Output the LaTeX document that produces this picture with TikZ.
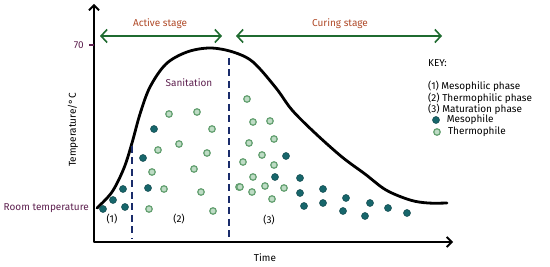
\documentclass[tikz,border=0pt]{standalone}
\usepackage{fontspec}
\setsansfont{Fira Sans}
\newcommand{\handall}{\sffamily}
\usepackage{tikz}
\usetikzlibrary{arrows.meta,positioning}
\definecolor{stage}{HTML}{1F6B30}
\definecolor{stagetxt}{HTML}{B04A28}
\definecolor{plum}{HTML}{5E2150}
\definecolor{navy}{HTML}{1A2C6B}
\definecolor{meso}{HTML}{17666B}
\definecolor{thermo}{HTML}{6FB27E}
\tikzset{
  axis/.style={line width=1.8pt, line join=round,
               {Straight Barb[length=5pt,width=10pt]}-{Straight Barb[length=5pt,width=10pt]}},
  stagear/.style={draw=stage, line width=1.6pt,
               {Straight Barb[length=6pt,width=13pt]}-{Straight Barb[length=6pt,width=13pt]}},
  curve/.style={line width=2.8pt, line cap=round},
  split/.style={draw=navy, line width=1.6pt, dash pattern=on 7pt off 4.5pt},
  txt/.style={font=\handall\fontsize{10}{12}\selectfont, inner sep=1pt},
  stagelbl/.style={txt, text=stagetxt},
  plumlbl/.style={txt, text=plum},
  key/.style={txt, anchor=west},
  mesodot/.style={circle, inner sep=0pt, minimum size=7pt, fill=meso,
                  draw=meso!70!black, line width=0.5pt},
  thermodot/.style={circle, inner sep=0pt, minimum size=6.5pt, fill=thermo!45,
                  draw=thermo!90!black, line width=1.2pt},
}

\begin{document}
\begin{tikzpicture}[x=1pt, y=-1pt]
  \path[use as bounding box, fill=white] (0,0) rectangle (550,267);

  % axes
  \coordinate (ytop) at (94,4);
  \coordinate (O) at (94,242);
  \coordinate (xend) at (453,242);
  \draw[axis] (ytop) -- (O) -- (xend);
  \coordinate (t70) at (89,45);
  \draw[plum, line width=1.2pt] (t70) -- (O |- t70);
  \node[plumlbl, left=4pt of t70] (l70) {70};
  \node[txt, rotate=90] (ylbl) at (73,130) {Temperature/°C};
  \node[txt] (xlbl) at (265,258) {Time};
  \node[plumlbl, anchor=east] (room) at (90,208) {Room temperature};

  % stages
  \coordinate (as1) at (100,36);
  \coordinate (as2) at (222,36);
  \coordinate (cs1) at (236,36);
  \coordinate (cs2) at (442,36);
  \draw[stagear] (as1) -- (as2);
  \draw[stagear] (cs1) -- (cs2);
  \node[stagelbl] (active) at (160,24) {Active stage};
  \node[stagelbl] (curing) at (340,24) {Curing stage};

  % temperature curve
  \draw[curve] plot[smooth, tension=0.55] coordinates {
    (97,208) (112,192) (124,168) (132,143) (140,114) (150,87) (166,64)
    (187,52) (210,48) (233,52) (253,62) (276,88) (292,110) (315,133)
    (342,157) (365,174) (386,190) (410,200) (428,203) (447,203)};

  % phase limits
  \coordinate (d1t) at (132,146);
  \coordinate (d1b) at (132,239);
  \coordinate (d2t) at (229,58);
  \coordinate (d2b) at (229,240);
  \draw[split] (d1t) -- (d1b);
  \draw[split] (d2t) -- (d2b);
  \node[txt] (p1) at (112,219) {(1)};
  \node[txt] (p2) at (179,219) {(2)};
  \node[txt] (p3) at (269,220) {(3)};
  \node[plumlbl] (sani) at (189,83) {Sanitation};

  % microbes
  \foreach \x/\y [count=\i] in {103/209, 113/200, 123/189, 125/207, 154/129,
      143/158, 148/188, 286/156, 275/177, 300/178, 300/193, 323/189, 304/206,
      323/203, 346/198, 343/211, 370/203, 365/216, 388/208, 407/213}
    \node[mesodot] (m\i) at (\x,\y) {};
  \foreach \x/\y [count=\i] in {169/114, 197/112, 212/129, 179/144, 158/150,
      207/153, 152/172, 194/169, 164/189, 201/192, 149/209, 213/211, 239/187,
      247/99, 253/122, 270/121, 249/143, 274/139, 262/155, 243/162, 274/165,
      253/177, 240/187, 252/192, 265/186, 284/188, 272/199}
    \node[thermodot] (t\i) at (\x,\y) {};

  % key
  \node[key] (keyhd) at (427,63) {KEY:};
  \foreach \y/\t [count=\i] in {86/(1) Mesophilic phase, 98/(2) Thermophilic phase,
      109/(3) Maturation phase}
    \node[key] (k\i) at (427,\y) {\t};
  \node[mesodot] (lm) at (436,120) {};
  \node[key, right=6pt of lm] (lmt) {Mesophile};
  \node[thermodot] (lt) at (437,132) {};
  \node[key, right=6pt of lt] (ltt) {Thermophile};
\end{tikzpicture}
\end{document}
